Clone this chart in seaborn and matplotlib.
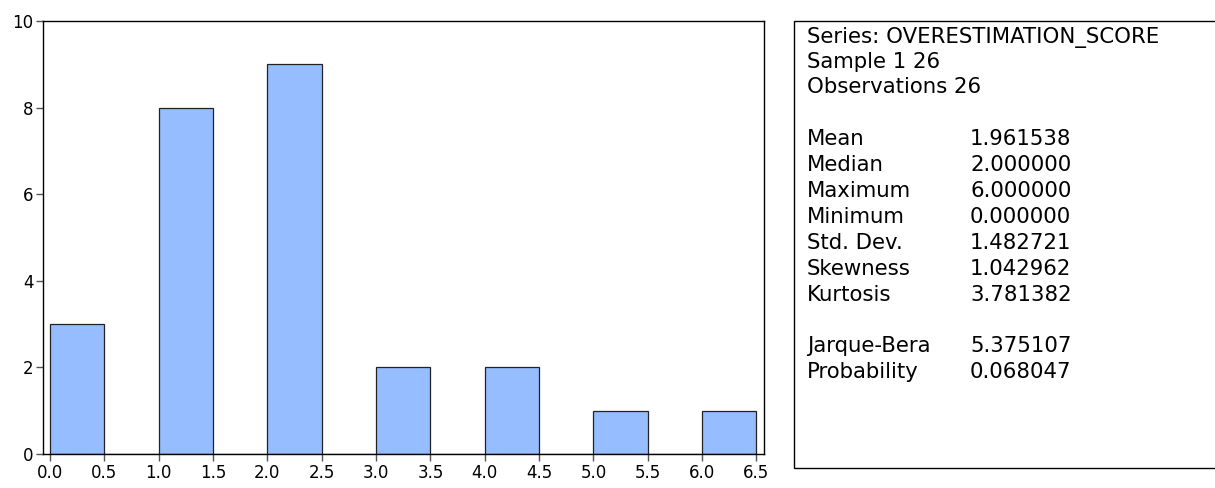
import numpy as np
import pandas as pd
import matplotlib
matplotlib.use("Agg")
import matplotlib.pyplot as plt
from matplotlib.patches import Rectangle
import seaborn as sns

# Observed scores and how many respondents gave each one
scores = [0, 1, 2, 3, 4, 5, 6]
counts = [3, 8, 9, 2, 2, 1, 1]

x_ticks = [0.0, 0.5, 1.0, 1.5, 2.0, 2.5, 3.0, 3.5, 4.0, 4.5, 5.0, 5.5, 6.0, 6.5]
y_ticks = [0, 2, 4, 6, 8, 10]

series_name = "OVERESTIMATION_SCORE"
header_lines = [f"Series: {series_name}", "Sample 1 26", "Observations 26"]
stat_names = ["Mean", "Median", "Maximum", "Minimum", "Std. Dev.",
              "Skewness", "Kurtosis"]
stat_values = ["1.961538", "2.000000", "6.000000", "0.000000", "1.482721",
               "1.042962", "3.781382"]
test_names = ["Jarque-Bera", "Probability"]
test_values = ["5.375107", "0.068047"]

sns.set_theme(style="white")
plt.rcParams["font.family"] = ["DejaVu Sans"]
plt.rcParams["text.color"] = "black"

# One row per observation
df = pd.DataFrame({"score": np.repeat(scores, counts).astype(float)})

fig = plt.figure(figsize=(12.15, 4.88), dpi=100)
ax = fig.add_axes([0.0354, 0.0697, 0.5934, 0.8873])

sns.histplot(data=df, x="score", binwidth=0.5, binrange=(0, 6.5),
             color="#96BDFF", alpha=1.0, edgecolor="#222222", linewidth=0.9,
             ax=ax)

ax.set_xlim(-0.065, 6.57)
ax.set_ylim(0, 10)
ax.set_xticks(x_ticks)
ax.set_xticklabels([f"{t:.1f}" for t in x_ticks])
ax.set_yticks(y_ticks)
ax.set_xlabel("")
ax.set_ylabel("")
ax.tick_params(axis="both", direction="out", length=5, width=1,
               color="#555555", labelsize=12, labelcolor="black",
               bottom=True, left=True, pad=2)
for side in ["left", "bottom", "top", "right"]:
    ax.spines[side].set_visible(True)
    ax.spines[side].set_color("black")
    ax.spines[side].set_linewidth(1.0)

# Statistics panel
box = Rectangle((794 / 1215, 20 / 488), 1.0 - 794 / 1215 + 0.01, 447 / 488,
                transform=fig.transFigure, facecolor="white",
                edgecolor="black", linewidth=1.0, clip_on=False)
fig.add_artist(box)

fs = 15.3
label_x = 807 / 1215
value_x = 970 / 1215


def ypos(pix):
    return 1 - pix / 488


rows_y = [37, 62, 87]
for text, py in zip(header_lines, rows_y):
    fig.text(label_x, ypos(py), text, fontsize=fs, va="center", ha="left",
             color="black")

stat_y = [139, 165, 191, 217, 243, 269, 295]
for name, val, py in zip(stat_names, stat_values, stat_y):
    fig.text(label_x, ypos(py), name, fontsize=fs, va="center", ha="left",
             color="black")
    fig.text(value_x, ypos(py), val, fontsize=fs, va="center", ha="left",
             color="black")

test_y = [346, 372]
for name, val, py in zip(test_names, test_values, test_y):
    fig.text(label_x, ypos(py), name, fontsize=fs, va="center", ha="left",
             color="black")
    fig.text(value_x, ypos(py), val, fontsize=fs, va="center", ha="left",
             color="black")

fig.savefig("out.png", dpi=100, facecolor="white")
